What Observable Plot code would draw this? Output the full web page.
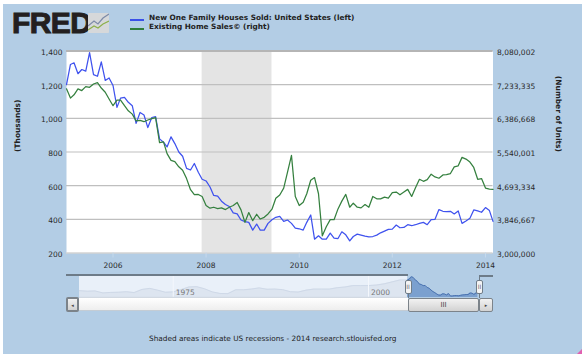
<!DOCTYPE html>
<html>
<head>
<meta charset="utf-8">
<script src="https://cdn.jsdelivr.net/npm/d3@7"></script>
<script src="https://cdn.jsdelivr.net/npm/@observablehq/plot@0.6"></script>
<style>
  html, body { margin: 0; padding: 0; background: #fff; }
  #page { position: relative; width: 585px; height: 354px; overflow: hidden; font-family: "DejaVu Sans", sans-serif; }
  #panel { position: absolute; left: 3px; top: 4px; width: 579px; height: 350px; background: #b3cde5; }
  #main, #nav { position: absolute; left: 0; }
  #main { top: 0; }
  #nav { top: 270px; }
  #main svg, #nav svg { display: block; background: transparent; overflow: visible; }
  .abs { position: absolute; }
  #logo { left: 12px; top: 8px; font: 900 30px/30px "Liberation Sans", Arial, sans-serif; color: #231f20; letter-spacing: -0.6px; -webkit-text-stroke: 1px #231f20; }
  .leg { left: 149px; font: bold 7.35px/10px "DejaVu Sans", sans-serif; color: #222; white-space: nowrap; }
  .sw { left: 130px; width: 14px; height: 1.5px; }
  #note { left: 149px; top: 334px; font: 7.35px/10px "DejaVu Sans", sans-serif; color: #222; white-space: nowrap; }
  .btn { background: linear-gradient(#f2f2f2, #d2d2d2); border: 1px solid #7c838a; border-radius: 2px; box-sizing: border-box; color: #444; font-size: 5px; line-height: 12px; text-align: center; }
  .handle { width: 7px; height: 14px; top: 280px; background: #f4f4f4; border: 1px solid #6f7c88; border-radius: 2px; box-sizing: border-box; color: #667; font-size: 6px; line-height: 11px; text-align: center; }
</style>
</head>
<body>
<div id="page">
  <div id="panel"></div>
  <div id="main"></div>
  <div id="nav"></div>

  <div id="logo" class="abs">FRED</div>
  <svg class="abs" style="left:88px;top:13px" width="21" height="20">
    <rect width="21" height="20" rx="1" fill="#d6d8da"/>
    <polyline points="0,13 6,8 10,11 15,5 21,1" fill="none" stroke="#7d8ba8" stroke-width="1.2"/>
    <polyline points="0,17 6,13 10,15 15,11 21,8" fill="none" stroke="#8db04a" stroke-width="1.2"/>
  </svg>

  <div class="abs sw" style="top:19px;background:#3a50e8"></div>
  <div class="abs leg" style="top:13px">New One Family Houses Sold: United States (left)</div>
  <div class="abs sw" style="top:28px;background:#2f7d3a"></div>
  <div class="abs leg" style="top:22px">Existing Home Sales© (right)</div>

  <div class="abs" style="left:66px;top:274px;width:342px;height:2px;background:#6d7b88"></div>
  <div class="abs" style="left:479px;top:275px;width:14px;height:1.5px;background:#6d7b88"></div>
  <div class="abs" style="left:479px;top:275px;width:1px;height:6px;background:#6d7b88"></div>
  <div class="abs" style="left:408px;top:294px;width:1px;height:4px;background:#6d7b88"></div>
  <div class="abs" style="left:479px;top:294px;width:1px;height:4px;background:#6d7b88"></div>

  <div class="abs" style="left:79px;top:298px;width:329px;height:13px;background:linear-gradient(#fff,#eee);border-bottom:1px solid #c4ccd4;box-sizing:border-box"></div>
  <div class="abs btn" style="left:66px;top:297px;width:13px;height:15px;border:2px solid #7c838a">◂</div>
  <div class="abs btn" style="left:408px;top:298px;width:71px;height:14px;line-height:13px;font-size:7px">III</div>
  <div class="abs btn" style="left:479px;top:298px;width:14px;height:14px">▸</div>
  <div class="abs handle" style="left:404.5px">II</div>
  <div class="abs handle" style="left:476px">II</div>

  <div id="note" class="abs">Shaded areas indicate US recessions - 2014 research.stlouisfed.org</div>
  <div class="abs" style="left:577px;top:349px;width:5px;height:5px;background:#e060b0;clip-path:polygon(100% 0,100% 100%,0 100%)"></div>
</div>

<script>
// Monthly series, Jan 2005 onward
const startYear = 2005;
const newHomes = [
  1200,1320,1330,1265,1290,1280,1390,1260,1250,1335,1225,1240,
  1195,1065,1120,1125,1095,1075,970,1035,1020,945,1005,1010,
  878,858,830,890,850,800,775,703,693,732,680,638,
  628,592,542,538,508,488,476,438,432,396,386,382,
  336,372,336,336,376,398,412,418,388,396,376,348,
  344,336,382,426,282,302,282,282,318,288,286,326,
  308,272,298,312,306,300,296,298,306,320,330,340,
  342,366,350,352,368,362,368,376,382,368,398,400,
  458,448,446,448,432,450,376,390,406,456,450,442,
  470,452,388
];
const existingHomes = [
  7128,6895,6979,7128,7085,7183,7166,7250,7284,7149,7043,6874,
  6704,6844,6844,6704,6577,6493,6323,6336,6302,6344,6378,6404,
  5773,5794,5498,5328,5299,5167,5083,4871,4592,4465,4473,4422,
  4194,4126,4151,4118,4135,4092,4151,4194,4270,4084,3770,4016,
  3813,3974,3855,3897,3982,4101,4376,4460,4630,5032,5455,4422,
  4194,4278,4490,4829,4897,4490,3432,3660,3838,3838,4109,4304,
  4473,4151,4253,4151,4135,4219,4151,4422,4363,4363,4405,4380,
  4516,4533,4465,4533,4600,4422,4643,4854,4803,4846,4981,4914,
  4880,4964,4973,4998,5167,5193,5405,5362,5286,5151,4854,4871,
  4634,4609,4600
]; // thousands of units

// Navigator history, one reading per year
const historyYears = [1963,1964,1965,1966,1967,1968,1969,1970,1971,1972,1973,1974,1975,1976,1977,1978,1979,1980,1981,1982,1983,1984,1985,1986,1987,1988,1989,1990,1991,1992,1993,1994,1995,1996,1997,1998,1999,2000,2001,2002,2003,2004,2005];
const historySales = [590,560,575,460,490,500,530,480,660,720,620,500,520,650,800,820,700,520,430,420,640,640,680,750,670,680,650,530,510,620,680,680,680,760,800,880,880,880,910,980,1090,1200,1200];

const leftTicks = [200,400,600,800,1000,1200,1400];
const rightLabels = ["3,000,000","3,846,667","4,693,334","5,540,001","6,386,668","7,233,335","8,080,002"];
const yearTicks = [2006,2008,2010,2012,2014];
const navLabels = [[1975,"1975"],[2000,"2000"]];
const recession = [{start: new Date(Date.UTC(2007,11,1)), end: new Date(Date.UTC(2009,5,1))}];

const date = i => new Date(Date.UTC(startYear, i, 1));
const rows = a => a.map((v, i) => ({date: date(i), v}));
// right axis (thousands of units) placed on the left axis' scale
const toLeft = d3.scaleLinear([3000, 8080.002], [200, 1400]);

const font = {fontFamily: "DejaVu Sans, sans-serif", fontSize: 7.5};

document.getElementById("main").append(Plot.plot({
  width: 585, height: 271,
  marginLeft: 66, marginRight: 92.5, marginTop: 50.5, marginBottom: 18.5,
  style: {...font, background: "transparent", color: "#2a2a2a"},
  x: {type: "utc", domain: [date(0), date(110)]},
  y: {domain: [200, 1400]},
  marks: [
    Plot.frame({fill: "#fff", stroke: null}),
    Plot.rectY(recession, {x1: "start", x2: "end", y1: 200, y2: 1400, fill: "#e4e4e4"}),
    Plot.gridY(leftTicks, {stroke: "#bfbfbf", strokeOpacity: 1, strokeWidth: 1.2}),
    Plot.ruleY([1400], {stroke: "#b5b5b5", strokeWidth: 2}),
    Plot.ruleY([200], {stroke: "#dcdcdc", strokeWidth: 1}),
    Plot.lineY(rows(newHomes), {x: "date", y: "v", stroke: "#3f52ee", strokeWidth: 1.25}),
    Plot.lineY(rows(existingHomes), {x: "date", y: d => toLeft(d.v), stroke: "#35803f", strokeWidth: 1.25}),
    Plot.axisY(leftTicks, {anchor: "left", tickSize: 0, tickPadding: 4, dy: 1.5, tickFormat: d3.format(","), label: null}),
    Plot.axisY(leftTicks, {anchor: "right", tickSize: 0, tickPadding: 4, dy: 1.5,
      tickFormat: (d, i) => rightLabels[i], label: null}),
    Plot.axisX(yearTicks.map(y => new Date(Date.UTC(y, 0, 1))), {anchor: "bottom", tickSize: 5, stroke: "#c6d9ec",
      tickPadding: 5, tickFormat: d => String(d.getUTCFullYear()), label: null}),
    Plot.text(["(Thousands)"], {frameAnchor: "left", dx: -49, rotate: -90, fontWeight: "bold", fill: "#222"}),
    Plot.text(["(Number of Units)"], {frameAnchor: "right", dx: 65.5, rotate: 90, fontWeight: "bold", fill: "#222"})
  ]
}));

const navHistory = historyYears.map((x, i) => ({x, v: historySales[i]}));
// the navigator is too narrow to show every month: every third one is drawn
const navRecent = newHomes.map((v, i) => ({x: startYear + i / 12, v})).filter((d, i) => i % 3 === 0);

document.getElementById("nav").append(Plot.plot({
  width: 585, height: 30,
  marginLeft: 79, marginRight: 92, marginTop: 6, marginBottom: 3,
  style: {...font, background: "transparent", color: "#666"},
  x: {domain: [1963, 2016], axis: null},
  y: {domain: [200, 1400], axis: null},
  marks: [
    Plot.rectY([{a: 1963, b: 2005}], {x1: "a", x2: "b", y1: 200, y2: 1400, fill: "#e9f0f9"}),
    Plot.areaY(navHistory, {x: "x", y1: 200, y2: "v", fill: "#dde5f0"}),
    Plot.lineY(navHistory, {x: "x", y: "v", stroke: "#cfd9e8", strokeWidth: 1}),
    Plot.ruleX(navLabels, {x: d => d[0], y1: 200, y2: 1400, stroke: "#f4f7fc", strokeWidth: 1}),
    Plot.areaY(navRecent, {x: "x", y1: 200, y2: "v", fill: "#7ba0cf"}),
    Plot.lineY(navRecent, {x: "x", y: "v", stroke: "#4a72b0", strokeWidth: 1}),
    Plot.ruleY([200], {x1: 1963, x2: 2005, stroke: "#d2d9e2", strokeWidth: 1.5}),
    Plot.text(navLabels, {x: d => d[0], y: 500, text: d => d[1], dx: 12, fill: "#777", fontSize: 7.5})
  ]
}));
</script>
</body>
</html>
